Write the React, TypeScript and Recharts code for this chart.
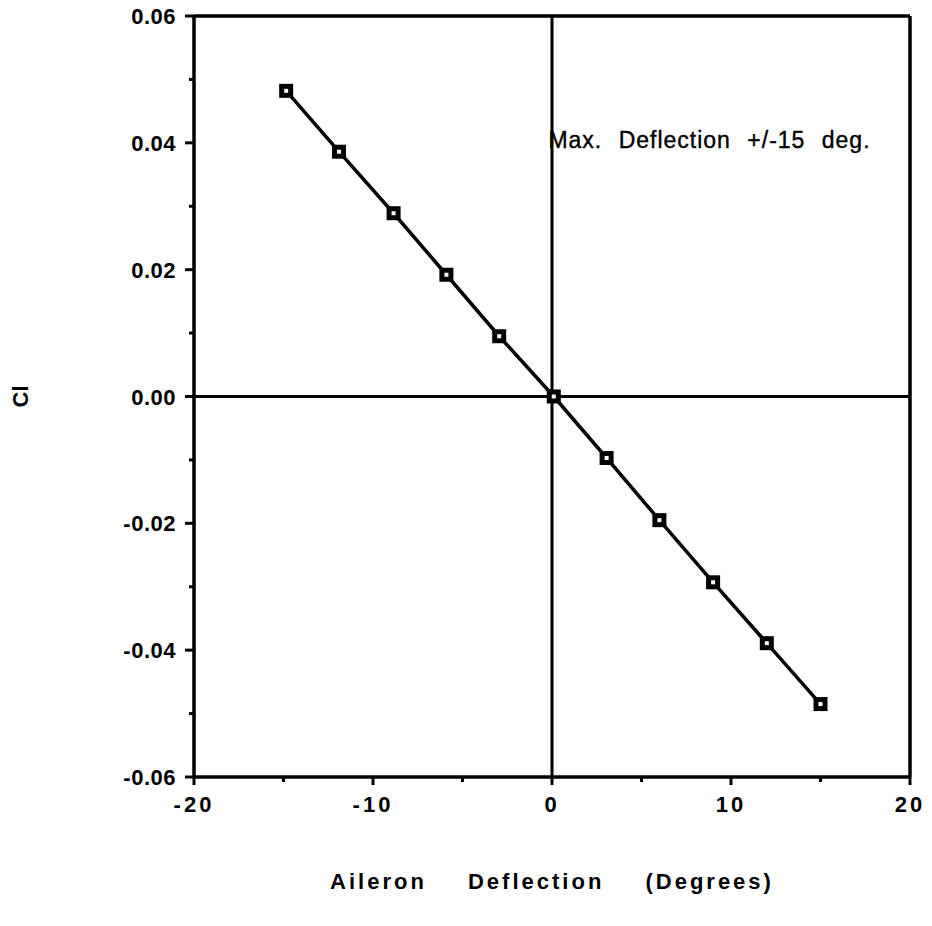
import React from 'react';
import { LineChart, Line, XAxis, YAxis, ReferenceLine, ReferenceDot } from 'recharts';

// Aileron deflection (deg) vs rolling moment coefficient Cl
const deflection = [-14.85, -11.9, -8.85, -5.9, -2.95, 0.1, 3.05, 6.0, 9.0, 12.0, 15.0];
const clValues = [0.0482, 0.0386, 0.0289, 0.0192, 0.0095, 0.0, -0.0097, -0.0195, -0.0293, -0.0389, -0.0485];

const xTicks = [-20, -15, -10, -5, 0, 5, 10, 15, 20];
const xMajor = [-20, -10, 0, 10, 20];
const yTicks = [-0.06, -0.05, -0.04, -0.03, -0.02, -0.01, 0, 0.01, 0.02, 0.03, 0.04, 0.05, 0.06];

const annotation = 'Max. Deflection +/-15 deg.';
const xTitle = 'Aileron Deflection (Degrees)';
const yTitle = 'Cl';

const data = deflection.map((x, i) => ({ x, cl: clValues[i] }));

const FONT = '"Liberation Sans", Arial, sans-serif';

const XTick = (props: any) => {
  const { x, y, payload } = props;
  const major = xMajor.includes(payload.value);
  return (
    <g>
      <line x1={x} x2={x} y1={y} y2={y + (major ? 8 : 5)} stroke="#000" strokeWidth={3} />
      {major && (
        <text x={x} y={y + 35} textAnchor="middle" fontFamily={FONT} fontSize={22} fontWeight="bold" letterSpacing={3} fill="#000">
          {payload.value}
        </text>
      )}
    </g>
  );
};

const YTick = (props: any) => {
  const { x, y, payload } = props;
  const major = Math.round(payload.value * 100) % 2 === 0;
  return (
    <g>
      <line x1={x} x2={x - (major ? 9 : 5)} y1={y} y2={y} stroke="#000" strokeWidth={3} />
      {major && (
        <text x={x - 18} y={y + 8} textAnchor="end" fontFamily={FONT} fontSize={22} fontWeight="bold" letterSpacing={0.5} fill="#000">
          {payload.value.toFixed(2)}
        </text>
      )}
    </g>
  );
};

const SquareDot = (props: any) => {
  const { cx, cy } = props;
  if (cx == null || cy == null) return null;
  return (
    <g>
      <rect x={cx - 7} y={cy - 7} width={14} height={14} fill="#000" />
      <rect x={cx - 2} y={cy - 2} width={4} height={4} fill="#fff" />
    </g>
  );
};

export default function App() {
  return (
    <div style={{ position: 'absolute', left: 0, top: 0, background: '#fff', fontFamily: FONT }}>
      <LineChart width={932} height={926} data={data} margin={{ top: 16, right: 22, left: 0, bottom: 29 }}>
        <XAxis
          dataKey="x"
          type="number"
          domain={[-20, 20]}
          ticks={xTicks}
          interval={0}
          axisLine={false}
          tickLine={false}
          tickSize={0}
          tickMargin={0}
          tick={<XTick />}
          height={120}
          label={{
            value: xTitle,
            position: 'insideBottom',
            offset: 8,
            style: { fontFamily: FONT, fontSize: 22, fontWeight: 'bold', letterSpacing: 3, wordSpacing: 32, fill: '#000' },
          }}
        />
        <YAxis
          type="number"
          domain={[-0.06, 0.06]}
          ticks={yTicks}
          interval={0}
          axisLine={false}
          tickLine={false}
          tickSize={0}
          tickMargin={0}
          tick={<YTick />}
          width={194}
          label={{
            value: yTitle,
            angle: -90,
            position: 'insideLeft',
            offset: 20,
            style: { fontFamily: FONT, fontSize: 22, fontWeight: 'bold', fill: '#000', textAnchor: 'middle' },
          }}
        />
        {/* frame */}
        <ReferenceLine x={-20} stroke="#000" strokeWidth={3.5} />
        <ReferenceLine x={20} stroke="#000" strokeWidth={3.5} />
        <ReferenceLine y={0.06} stroke="#000" strokeWidth={3.5} />
        <ReferenceLine y={-0.06} stroke="#000" strokeWidth={3.5} />
        {/* zero lines */}
        <ReferenceLine x={0} stroke="#000" strokeWidth={3} />
        <ReferenceLine y={0} stroke="#000" strokeWidth={3} />
        <ReferenceDot
          x={-0.2}
          y={0.0404}
          r={0}
          fill="none"
          stroke="none"
          label={{
            value: annotation,
            position: 'right',
            offset: 0,
            style: { fontFamily: FONT, fontSize: 23, letterSpacing: 1, wordSpacing: 9, fill: '#000', stroke: '#000', strokeWidth: 0.4 },
          }}
        />
        <Line
          dataKey="cl"
          stroke="#000"
          strokeWidth={3.5}
          dot={<SquareDot />}
          activeDot={false}
          isAnimationActive={false}
        />
      </LineChart>
    </div>
  );
}
